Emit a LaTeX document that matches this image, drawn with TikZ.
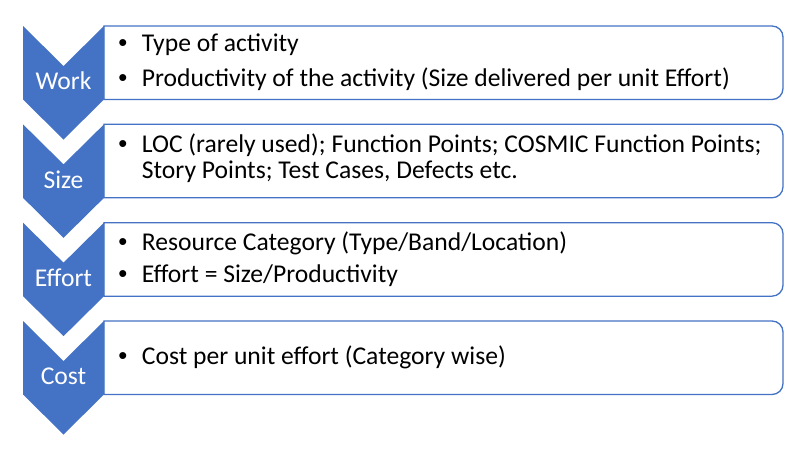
\documentclass[tikz,border=0pt]{standalone}
\usepackage{fontspec}
\setmainfont{Carlito}
\newfontfamily\bulfont{Liberation Sans}
\definecolor{accent}{HTML}{4472C4}
\tikzset{
 chev/.style={fill=accent},
 boxline/.style={draw=accent, line width=1.3pt, fill=white},
 lab/.style={text=white, font=\fontsize{25.6}{30}\selectfont, inner sep=0pt},
 item/.style={anchor=base west, inner sep=0pt, font=\fontsize{25.6}{30}\selectfont},
 bul/.style={anchor=base, inner sep=0pt, font=\bulfont\fontsize{25.6}{30}\selectfont},
}
\begin{document}
\begin{tikzpicture}[x=1pt,y=-1pt]
\useasboundingbox (0,0) rectangle (800,452);
\foreach \T/\n/\lab in {26/1/Work,124.33/2/Size,222.67/3/Effort,321/4/Cost}{
  \draw[boxline] (104,\T) -- (772,\T) arc[start angle=-90,end angle=0,radius=11] -- (783,\T+62.5) arc[start angle=0,end angle=90,radius=11] -- (104,\T+73.5) -- cycle;
  \fill[chev] (23,\T) -- (63.5,\T+40) -- (104,\T) -- (104,\T+73.5) -- (63.5,\T+113.5) -- (23,\T+73.5) -- cycle;
  \node[lab] (lab\n) at (63.5,\T+55) {\lab};
}
\node[bul] (b1a) at (122.8,52) {•};
\node[item] (t1a) at (141.7,52) {Type of activity};
\node[bul] (b1b) at (122.8,86) {•};
\node[item] (t1b) at (141.7,86) {Productivity of the activity (Size delivered per unit Effort)};
\node[bul] (b2a) at (122.8,152.3) {•};
\node[item] (t2a) at (141.7,152.3) {LOC (rarely used); Function Points; COSMIC Function Points;};
\node[item] (t2b) at (141.7,178.3) {Story Points; Test Cases, Defects etc.};
\node[bul] (b3a) at (122.8,250) {•};
\node[item] (t3a) at (141.7,250) {Resource Category (Type/Band/Location)};
\node[bul] (b3b) at (122.8,282.7) {•};
\node[item] (t3b) at (141.7,282.7) {Effort = Size/Productivity};
\node[bul] (b4a) at (122.8,364.5) {•};
\node[item] (t4a) at (141.7,364.5) {Cost per unit effort (Category wise)};
\end{tikzpicture}
\end{document}
